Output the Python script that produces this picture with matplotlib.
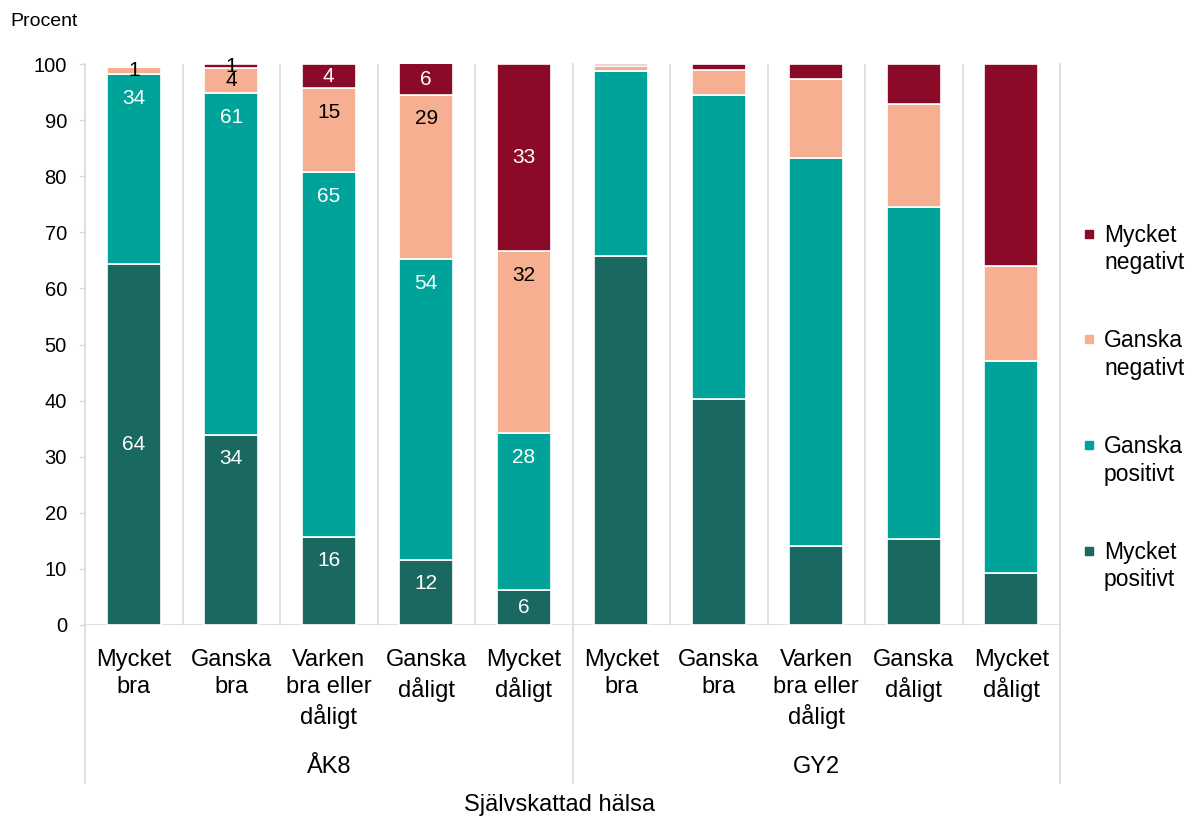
import numpy as np
import matplotlib.pyplot as plt

plt.rcParams['font.family'] = ['Liberation Sans', 'DejaVu Sans']

# Andel (procent) per svarsalternativ, för varje kategori av självskattad hälsa
kategorier = ['Mycket\nbra', 'Ganska\nbra', 'Varken\nbra eller\ndåligt', 'Ganska\ndåligt', 'Mycket\ndåligt']
grupper = ['ÅK8', 'GY2']

mycket_positivt = [64.3, 33.9, 15.7, 11.6, 6.2, 65.8, 40.3, 14.1, 15.3, 9.3]
ganska_positivt = [33.9, 60.9, 65.0, 53.6, 28.0, 33.0, 54.2, 69.1, 59.2, 37.8]
ganska_negativt = [1.2, 4.4, 15.0, 29.3, 32.4, 0.8, 4.4, 14.1, 18.4, 16.9]
mycket_negativt = [0.0, 0.8, 4.3, 5.6, 33.4, 0.4, 1.1, 2.7, 7.1, 36.0]

serier = ['Mycket positivt', 'Ganska positivt', 'Ganska negativt', 'Mycket negativt']
farger = ['#196960', '#00A39A', '#F6AF91', '#8B0A27']
textfarger = ['white', 'white', 'black', 'white']

# bara ÅK8 har etiketter
etikett_staplar = 5

data = np.array([mycket_positivt, ganska_positivt, ganska_negativt, mycket_negativt])
n = data.shape[1]
x = np.arange(n)

fig = plt.figure(figsize=(11.96, 8.19), dpi=100)
ax = fig.add_axes([85 / 1196, 194 / 819, 975 / 1196, 561 / 819])

grid = '#D9D9D9'
botten = np.zeros(n)
for i in range(4):
    ax.bar(x, data[i], bottom=botten, width=0.55, color=farger[i],
           edgecolor='white', linewidth=1.2, zorder=3)
    botten += data[i]

ax.set_xlim(-0.5, n - 0.5)
ax.set_ylim(0, 100)
ax.set_yticks(range(0, 101, 10))
ax.tick_params(axis='y', labelsize=14.5, length=4, width=1, color=grid, pad=9)
ax.set_xticks([])
for s in ['top', 'right', 'bottom']:
    ax.spines[s].set_visible(False)
ax.spines['left'].set_color(grid)
ax.spines['left'].set_linewidth(1.2)

# vertikala linjer mellan kategorierna
for b in np.arange(0.5, n - 0.5, 1):
    if b == 4.5:
        ax.axvline(b, ymin=-0.282, ymax=1, color=grid, lw=1.2, clip_on=False, zorder=1)
    else:
        ax.axvline(b, color=grid, lw=1.2, zorder=1)
ax.axvline(n - 0.5, ymin=-0.282, ymax=1, color=grid, lw=1.2, clip_on=False, zorder=1)
ax.axvline(-0.5, ymin=-0.282, ymax=0, color=grid, lw=1.2, clip_on=False, zorder=1)
ax.axhline(0, color=grid, lw=1.2, zorder=2)

# kategorietiketter och grupper under axeln
trans = ax.get_xaxis_transform()
for j in range(n):
    ax.text(j, -0.042, kategorier[j % 5], transform=trans, ha='center', va='top',
            fontsize=17, linespacing=1.32)
for g, namn in enumerate(grupper):
    ax.text(g * 5 + 2, -0.253, namn, transform=trans, ha='center', va='center', fontsize=17)

# dataetiketter
px_per_enhet = ax.get_window_extent().height / 100
forskjut = 24 / px_per_enhet
botten = np.zeros(n)
for i in range(4):
    for j in range(etikett_staplar):
        v = data[i, j]
        if v <= 0:
            botten[j] += v
            continue
        topp = botten[j] + v
        mitt = botten[j] + v / 2
        if i == 3 or (i == 0 and j == 0):
            ypos = mitt
        else:
            ypos = max(topp - forskjut, mitt)
        farg = 'black' if v < 2 else textfarger[i]
        ax.text(j, ypos, f'{v:.0f}', ha='center', va='center', fontsize=15,
                color=farg, zorder=5)
        botten[j] += v
    for j in range(etikett_staplar, n):
        botten[j] += data[i, j]

# förklaring till höger
rader = np.linspace(233, 550, 4)
for k, i in enumerate(range(3, -1, -1)):
    y = 1 - rader[k] / 819
    fig.patches.append(plt.Rectangle((1085 / 1196, y - 4.5 / 819), 8 / 1196, 8 / 819,
                                     transform=fig.transFigure, color=farger[i]))
    namn = serier[i].replace(' ', '\n')
    fig.text(1104 / 1196, 1 - (rader[k] + 16) / 819, namn, ha='left', va='center',
             fontsize=16.5, linespacing=1.25)

fig.text(10 / 1196, 1 - 22 / 819, 'Procent', ha='left', va='center', fontsize=14)
fig.text(560 / 1196, 1 - 805 / 819, 'Självskattad hälsa', ha='center', va='center', fontsize=17)

fig.savefig('out.png', dpi=100)
